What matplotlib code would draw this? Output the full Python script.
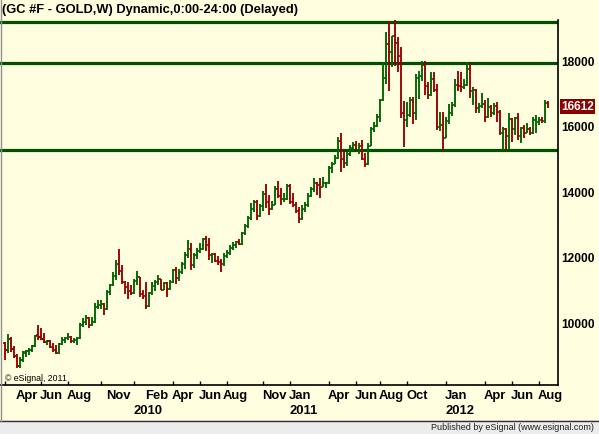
import numpy as np
import matplotlib
matplotlib.use("Agg")
import matplotlib.pyplot as plt
from matplotlib.patches import Rectangle
from matplotlib.lines import Line2D
import matplotlib.transforms as mtrans

# ---------------- data (weekly OHLC, GC #F) ----------------
opens = [
    9400, 9200, 9530, 9220, 9000, 8700, 8880, 9100, 9150, 9200,
    9320, 9650, 9600, 9520, 9420, 9460, 9280, 9200, 9100, 9360,
    9500, 9550, 9600, 9450, 9500, 9550, 9950, 10050, 10150, 9950,
    10050, 10500, 10560, 10600, 10450, 10960, 11180, 11460, 11800, 11600,
    11250, 11100, 11000, 10920, 11300, 11400, 10900, 10850, 10520, 10920,
    11150, 11250, 11350, 11030, 11230, 11050, 11260, 11620, 11370, 11580,
    11800, 12100, 12280, 11780, 12100, 12200, 12280, 12560, 12400, 12100,
    12120, 11900, 11880, 11800, 12050, 12150, 12300, 12400, 12480, 12420,
    12750, 12980, 13200, 13500, 13700, 13280, 13580, 13950, 13700, 13500,
    13620, 14100, 13870, 13780, 13800, 14200, 13700, 13600, 13430, 13180,
    13480, 13600, 13880, 14090, 14290, 14210, 14170, 14270, 14290, 14730,
    14870, 15040, 15560, 15000, 14900, 15150, 15360, 15430, 15290, 15400,
    15010, 14850, 15420, 15930, 16010, 16280, 16800, 17470, 18520, 18280,
    18770, 18560, 18140, 16400, 16200, 16350, 16820, 16420, 17470, 17550,
    17880, 17240, 16960, 17450, 17130, 15980, 16060, 15660, 16170, 16400,
    16650, 17270, 17250, 17200, 17260, 17770, 17100, 17120, 16560, 16620,
    16680, 16300, 16600, 16420, 16640, 16450, 15800, 15920, 15720, 16220,
    15930, 16260, 15720, 15950, 15820, 15930, 15790, 16190, 16150, 16210,
    16170, 16720,
]
highs = [
    9440, 9680, 9600, 9310, 9060, 8990, 9170, 9190, 9240, 9342,
    9646, 9951, 9850, 9697, 9494, 9494, 9392, 9342, 9392, 9596,
    9596, 9718, 9610, 9545, 9596, 10002, 10154, 10256, 10200, 10205,
    10612, 10703, 10720, 10632, 11008, 11211, 11567, 11923, 12278, 11770,
    11300, 11262, 11181, 11350, 11587, 11415, 11008, 11250, 10957, 11262,
    11313, 11466, 11364, 11262, 11260, 11313, 11669, 11719, 11669, 11872,
    12176, 12532, 12452, 12150, 12300, 12452, 12605, 12655, 12605, 12147,
    12150, 12046, 11974, 12147, 12249, 12381, 12483, 12523, 12584, 12800,
    13031, 13265, 13671, 13773, 13750, 13650, 14027, 14250, 13925, 13722,
    14179, 14332, 14128, 13967, 14251, 14251, 13967, 13713, 13560, 13611,
    13700, 13967, 14170, 14424, 14322, 14424, 14475, 14322, 14800, 14932,
    15135, 15694, 15795, 15287, 15236, 15440, 15541, 15562, 15500, 15592,
    15186, 15491, 15999, 16151, 16385, 16842, 17960, 18874, 19230, 18773,
    19280, 18722, 18417, 16791, 16740, 16893, 16900, 17604, 17700, 17990,
    18000, 17350, 17655, 17655, 17299, 16436, 16436, 16300, 16690, 16740,
    17452, 17706, 17650, 17450, 17960, 17950, 17218, 17150, 16710, 17015,
    16800, 16862, 16650, 16720, 16761, 16500, 16000, 15948, 16405, 16253,
    16300, 16405, 16000, 16050, 16100, 16000, 16303, 16354, 16300, 16303,
    16812, 16791,
]
lows = [
    8880, 9090, 9140, 8950, 8630, 8650, 8830, 8986, 9037, 9138,
    9291, 9494, 9494, 9392, 9342, 9240, 9138, 9067, 9080, 9342,
    9392, 9494, 9392, 9392, 9342, 9520, 9900, 9951, 9850, 9930,
    10002, 10449, 10450, 10246, 10420, 10880, 11140, 11313, 11465, 11200,
    10906, 10754, 10856, 10900, 11161, 10805, 10754, 10430, 10500, 10856,
    11000, 11161, 11008, 11008, 10805, 11008, 11240, 11211, 11300, 11500,
    11650, 12000, 11640, 11700, 11950, 12150, 12250, 12200, 11944, 11842,
    11873, 11791, 11568, 11741, 12000, 12100, 12249, 12300, 12381, 12401,
    12706, 12900, 13150, 13400, 13163, 13250, 13417, 13519, 13316, 13468,
    13600, 13824, 13620, 13713, 13763, 13642, 13560, 13357, 13073, 13160,
    13400, 13550, 13850, 14000, 13916, 13814, 14150, 14119, 14250, 14576,
    14850, 15000, 14627, 14729, 14800, 15100, 15250, 15287, 15150, 14983,
    14780, 14830, 15400, 15846, 15979, 16150, 16780, 17300, 17076, 17808,
    17858, 17660, 16270, 15369, 15979, 16300, 16080, 16200, 16850, 17400,
    16950, 16842, 16944, 17050, 15900, 15877, 15267, 15650, 16080, 16334,
    16600, 17096, 17050, 17150, 17250, 16880, 16659, 16405, 16400, 16557,
    16151, 16250, 16303, 16350, 16151, 15745, 15287, 15287, 15287, 15541,
    15745, 15592, 15491, 15643, 15795, 15750, 15760, 15795, 16050, 16100,
    16100, 16557,
]
closes = [
    9200, 9530, 9220, 9000, 8700, 8880, 9120, 9150, 9200, 9320,
    9620, 9600, 9520, 9420, 9460, 9280, 9200, 9100, 9360, 9500,
    9550, 9600, 9450, 9500, 9550, 9950, 10050, 10150, 9950, 10050,
    10500, 10560, 10600, 10450, 10960, 11180, 11460, 11770, 11600, 11250,
    11080, 10880, 10920, 11300, 11400, 10900, 10800, 10500, 10920, 11200,
    11250, 11350, 11030, 11230, 11050, 11260, 11620, 11370, 11580, 11800,
    12100, 12280, 11780, 12100, 12200, 12280, 12560, 12400, 12100, 12120,
    11900, 11880, 11800, 12050, 12150, 12300, 12400, 12480, 12420, 12750,
    12980, 13200, 13500, 13700, 13280, 13580, 13950, 13700, 13500, 13620,
    14100, 13870, 13780, 13800, 14200, 13700, 13600, 13430, 13180, 13480,
    13600, 13880, 14090, 14290, 14210, 14170, 14270, 14290, 14730, 14870,
    15040, 15560, 14910, 14900, 15150, 15360, 15430, 15290, 15400, 15010,
    14850, 15420, 15930, 16010, 16280, 16800, 17470, 18520, 18280, 18770,
    18560, 18140, 16370, 16200, 16350, 16820, 16420, 17470, 17550, 17880,
    17240, 16960, 17450, 17130, 15980, 16060, 15660, 16170, 16400, 16650,
    17270, 17250, 17200, 17260, 17770, 17100, 17120, 16560, 16620, 16680,
    16300, 16600, 16420, 16640, 16450, 15800, 15920, 15720, 16220, 15930,
    16260, 15720, 15950, 15820, 15930, 15790, 16190, 16220, 16210, 16170,
    16720, 16612,
]

channel_levels = [19180, 17945, 15296]
price_ticks = [10000, 12000, 14000, 16000, 18000]
month_pos = [4, 12, 21, 34, 47, 56, 65, 73, 86, 95, 108, 117, 125, 134, 147, 160, 169, 178]
month_names = ["Apr", "Jun", "Aug", "Nov", "Feb", "Apr", "Jun", "Aug", "Nov",
               "Jan", "Apr", "Jun", "Aug", "Oct", "Jan", "Apr", "Jun", "Aug"]
year_pos = [43, 95, 147]
year_names = ["2010", "2011", "2012"]
tick_pos = [0, 12, 21, 32, 43, 56, 65, 74, 86, 95, 108, 117, 125, 134, 147, 160, 169, 178]
title = "(GC #F - GOLD,W) Dynamic,0:00-24:00 (Delayed)"
last_label = "16612"
copyright_text = "\u00a9 eSignal, 2011"
publisher_text = "Published by eSignal (www.esignal.com)"

# ---------------- style ----------------
W, H = 599, 434
BG = "#FFFFE0"
GREEN = "#006400"
RED = "#990000"
LINE = "#005000"
FONT = "Liberation Sans"

fig = plt.figure(figsize=(W / 100, H / 100), dpi=100)
fig.patch.set_facecolor(BG)

ax_left, ax_right, ax_top, ax_bot = 0, 557.5, 20, 385
ax = fig.add_axes([ax_left / W, 1 - ax_bot / H, (ax_right - ax_left) / W, (ax_bot - ax_top) / H])
ax.set_facecolor(BG)

n = len(closes)
x = np.arange(n)
o = np.array(opens, float)
h = np.array(highs, float)
l = np.array(lows, float)
c = np.array(closes, float)

for lev in channel_levels:
    ax.axhline(lev, color=LINE, lw=2.3, zorder=1)

up = c >= o
for mask, col in ((up, GREEN), (~up, RED)):
    xs = x[mask]
    ax.vlines(xs, l[mask], h[mask], colors=col, lw=1.35, zorder=3)
    ax.hlines(o[mask], xs - 0.6, xs, colors=col, lw=1.2, zorder=3)
    ax.hlines(c[mask], xs, xs + 0.6, colors=col, lw=1.2, zorder=3)

ax.set_xlim(-1.567, 184.27)
ax.set_ylim(8122, 19250)

for side in ("top", "left"):
    ax.spines[side].set_visible(False)
for side in ("right", "bottom"):
    ax.spines[side].set_color("black")
    ax.spines[side].set_linewidth(1.2)

ax.yaxis.tick_right()
ax.set_yticks(price_ticks)
ax.set_yticklabels([str(v) for v in price_ticks], fontsize=8.6,
                   fontweight="bold", family=FONT)
ax.tick_params(axis="y", length=0, pad=2.5)

ax.set_xticks(tick_pos)
ax.set_xticklabels([])
ax.tick_params(axis="x", direction="in", length=3, width=1, color="black")

tr = mtrans.blended_transform_factory(ax.transData, fig.transFigure)
for p, name in zip(month_pos, month_names):
    ax.text(p - 0.2, 1 - 396 / H, name, transform=tr, ha="left", va="center",
            fontsize=9.4, fontweight="bold", family=FONT, color="black", clip_on=False)
for p, name in zip(year_pos, year_names):
    ax.text(p - 0.2, 1 - 410.5 / H, name, transform=tr, ha="left", va="center",
            fontsize=9.4, fontweight="bold", family=FONT, color="black", clip_on=False)

# last price marker
tr2 = mtrans.blended_transform_factory(ax.transAxes, ax.transData)
ax.text(1 + 3.5 / (ax_right - ax_left), c[-1], last_label, transform=tr2,
        ha="left", va="center", fontsize=8.6, fontweight="bold", family=FONT,
        color="white", clip_on=False,
        bbox=dict(boxstyle="square,pad=0.12", fc="#8B0000", ec="none"))

# title and small texts
fig.text(2 / W, 1 - 10.5 / H, title, ha="left", va="center", fontsize=9.3,
         fontweight="bold", family=FONT, color="black")
ax.text(5 / (ax_right - ax_left), 1 - (378.5 - ax_top) / (ax_bot - ax_top), copyright_text,
        transform=ax.transAxes, ha="left", va="center", fontsize=6.3, family=FONT,
        color="black")

# bottom status strip
fig.patches.append(Rectangle((0, 0), 1, 14 / H, transform=fig.transFigure,
                             fc="#ECECEC", ec="none", zorder=0))
fig.lines.append(Line2D([0, 1], [1 - 420.5 / H] * 2, transform=fig.transFigure,
                        color="#303030", lw=1.0))
fig.lines.append(Line2D([0.5 / W] * 2, [1 - 420.5 / H, 1], transform=fig.transFigure,
                        color="#909090", lw=1.0))
fig.text(594 / W, 1 - 427.5 / H, publisher_text, ha="right", va="center",
         fontsize=6.5, family=FONT, color="#202020")

fig.savefig("out.png", dpi=100, facecolor=BG)
